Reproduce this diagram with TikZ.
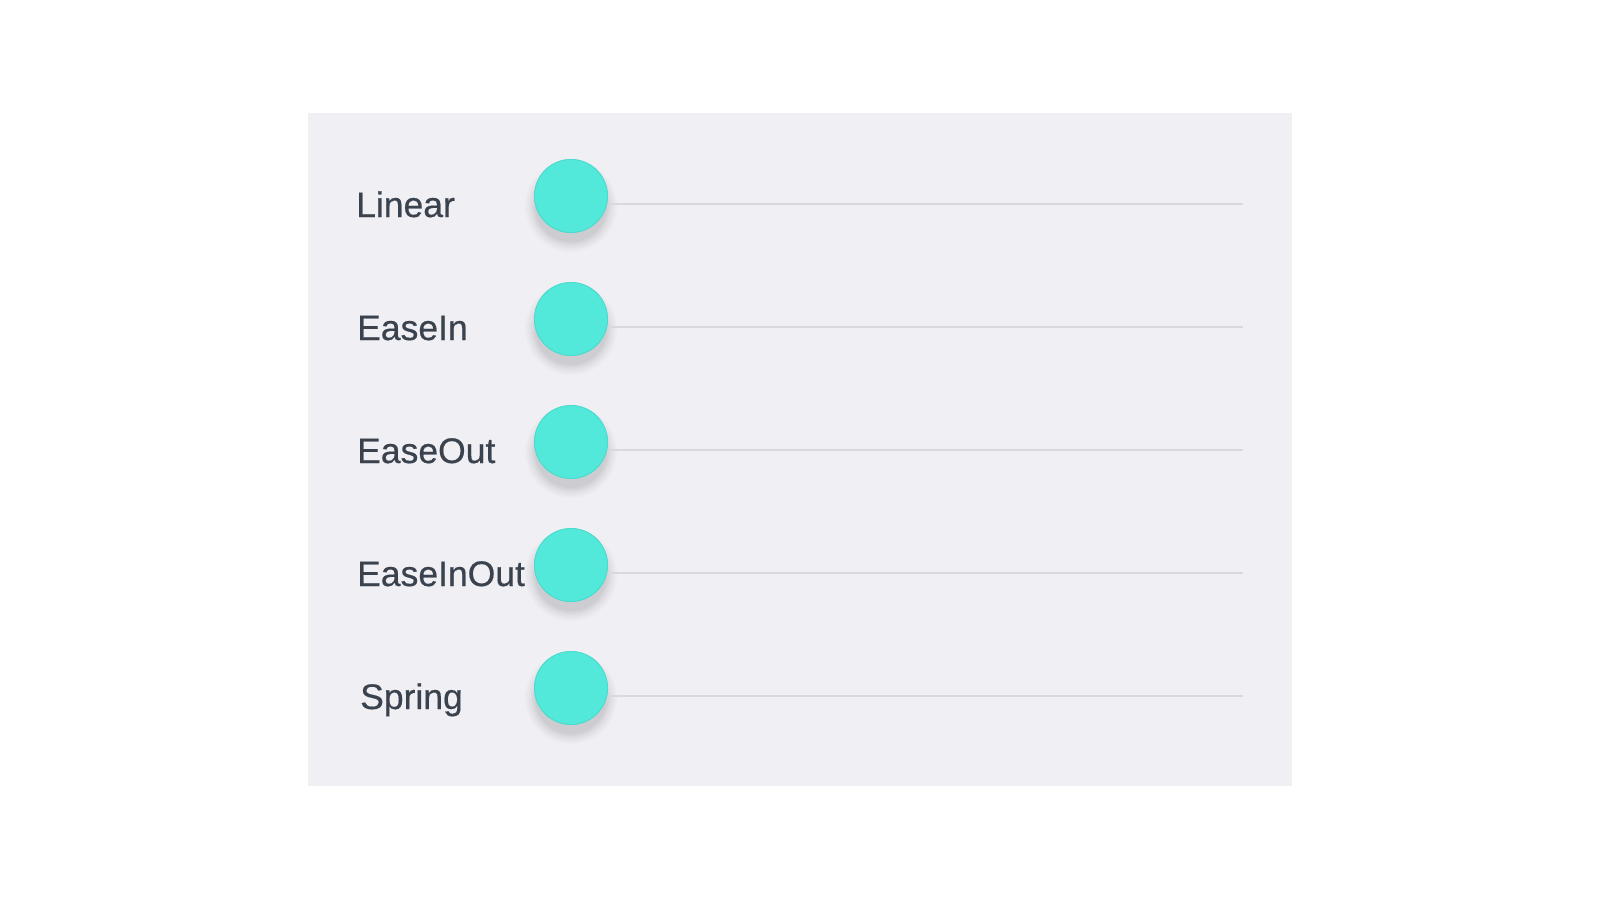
\documentclass[tikz,border=0pt]{standalone}
\usepackage{fontspec}
\setmainfont{Liberation Sans}
\newfontfamily\lblfont{Liberation Sans}[FakeBold=0.45]
\definecolor{panelbg}{RGB}{239,239,244}
\definecolor{knob}{RGB}{82,233,219}
\definecolor{knobedge}{RGB}{76,218,206}
\definecolor{track}{RGB}{216,216,222}
\definecolor{labeltext}{RGB}{58,66,78}
\tikzset{
  lbl/.style={anchor=base west, inner sep=0pt, text=labeltext, font=\lblfont\fontsize{35.5}{36}\selectfont},
  knobc/.style={circle, minimum size=73pt, inner sep=0pt, fill=knob, draw=knobedge, line width=0.8pt},
  trackline/.style={draw=track, line width=2.5pt},
}
\begin{document}
\begin{tikzpicture}[x=1pt,y=-1pt]
\useasboundingbox (0,0) rectangle (1600,900);
\fill[white] (0,0) rectangle (1600,900);
\fill[panelbg] (308,113) rectangle (1292,786);
\foreach \name/\txt/\lx/\y in {a/Linear/356/204, b/EaseIn/357/327, c/EaseOut/357/450, d/EaseInOut/357/573, e/Spring/360/696}{
  \coordinate (\name end) at (1243,\y);
  \foreach \r/\o in {46/0.015,44/0.02,42/0.02,40/0.025,38/0.03,36/0.03}{
    \fill[black,opacity=\o] (571,\y+2) circle (\r);
  }
  \node[knobc] (\name k) at (571,\y-8) {};
  \draw[trackline] (\name k.east) ++(0,8) coordinate (\name start) -- (\name end);
  \node[knobc] at (571,\y-8) {};
  \node[lbl] (\name l) at (\lx,\y+13) {\txt};
}
\end{tikzpicture}
\end{document}
